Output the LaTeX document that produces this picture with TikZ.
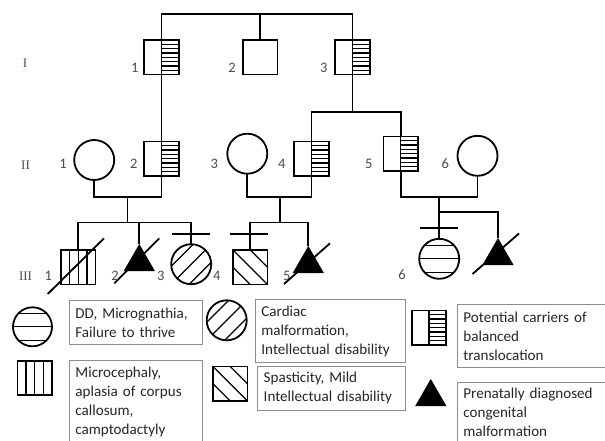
\documentclass[tikz,border=0pt]{standalone}
\usepackage{fontspec}
\setmainfont{Carlito}
\newfontfamily\genfont{Liberation Serif}
\usetikzlibrary{calc,shapes.geometric}
\definecolor{numgray}{rgb}{0.3,0.3,0.3}
\definecolor{boxgray}{rgb}{0.55,0.55,0.55}
\tikzset{
  conn/.style={line width=1.8pt},
  ind/.style={draw,line width=1.8pt,inner sep=0pt,outer sep=0pt},
  male/.style={ind,rectangle,minimum size=34.5pt},
  female/.style={ind,circle,minimum size=40pt},
  affected/.style={regular polygon,regular polygon sides=3,draw,fill=black,line width=1pt,inner sep=0pt,minimum size=34pt},
  hatch/.style={line width=1.2pt},
  carrier/.style={male,path picture={
    \draw[hatch] (path picture bounding box.north) -- (path picture bounding box.south);
    \foreach \k in {1,...,7}
      \draw[hatch] ($(path picture bounding box.north)!\k/8!(path picture bounding box.south)$) -- ($(path picture bounding box.north east)!\k/8!(path picture bounding box.south east)$);}},
  vstripes/.style={male,path picture={
    \foreach \k in {1,2,3}
      \draw[hatch] ($(path picture bounding box.north west)!\k/4!(path picture bounding box.north east)$) -- ($(path picture bounding box.south west)!\k/4!(path picture bounding box.south east)$);}},
  bstripes/.style={male,path picture={
    \draw[hatch] (path picture bounding box.north west) -- (path picture bounding box.south east);
    \draw[hatch] (path picture bounding box.north) -- (path picture bounding box.east);
    \draw[hatch] (path picture bounding box.west) -- (path picture bounding box.south);}},
  fstripes/.style={female,path picture={
    \foreach \s in {-9,0,9}
      \draw[hatch] ([shift={(\s pt,-\s pt)}]path picture bounding box.south west) -- ([shift={(\s pt,-\s pt)}]path picture bounding box.north east);}},
  hstripes/.style={female,path picture={
    \foreach \s in {-13.5,0,13.5}
      \draw[hatch] ([yshift=\s pt]path picture bounding box.west) -- ([yshift=\s pt]path picture bounding box.east);}},
  num/.style={text=numgray,inner sep=0pt,font=\fontsize{14.5}{16}\selectfont},
  gen/.style={text=numgray,inner sep=0pt,font=\genfont\fontsize{13}{15}\selectfont},
  legbox/.style={draw=boxgray,line width=0.8pt,anchor=north west,align=left,inner xsep=6pt,inner ysep=0pt,text=black!85,font=\fontsize{15.1}{19}\selectfont}
}

\begin{document}
\begin{tikzpicture}[x=1pt,y=-1pt]
\useasboundingbox (0,0) rectangle (605,440);
% generation I
\node[carrier] (I1) at (161.5,57.3) {};
\node[male] (I2) at (260.3,57.3) {};
\node[carrier] (I3) at (352.5,57.3) {};
% generation II
\node[female] (II1) at (94.2,160) {};
\node[carrier] (II2) at (161.5,158.7) {};
\node[female] (II3) at (247.3,153.7) {};
\node[carrier] (II4) at (311.5,158.7) {};
\node[carrier] (II5) at (400.8,153.7) {};
\node[female] (II6) at (477.5,155.8) {};
% generation III
\node[vstripes] (III1) at (78.3,267.2) {};
\node[affected] (III2) at (139.3,262) {};
\node[fstripes] (III3) at (191.2,264.2) {};
\node[bstripes] (III4) at (250.3,267.2) {};
\node[affected] (III5) at (308.3,264) {};
\node[hstripes] (III6) at (439.2,258.8) {};
\node[affected] (III7) at (498,256) {};

% lines of descent
\coordinate (topI) at (260.3,14);
\coordinate (sibII) at (352.5,112.3);
\coordinate (mar1) at (127.5,197.3);
\coordinate (sib1) at (127.5,222.5);
\coordinate (mar2) at (280,197.3);
\coordinate (sib2) at (280,222.5);
\coordinate (mar3) at (439.2,197.3);
\coordinate (twin) at (439.2,212);
\draw[conn] (I1.north) |- (topI) -| (I3.north);
\draw[conn] (I2.north) -- (topI);
\draw[conn] (I1.south) -- (II2.north);
\draw[conn] (I3.south) -- (sibII);
\draw[conn] (II4.north) |- (sibII) -| (II5.north);
\draw[conn] (II1.south) |- (mar1) -| (II2.south);
\draw[conn] (II3.south) |- (mar2) -| (II4.south);
\draw[conn] (II5.south) |- (mar3) -| (II6.south);
\draw[conn] (mar1) -- (sib1);
\draw[conn] (mar2) -- (sib2);
\draw[conn] (III1.north) |- (sib1) -| (III3.north);
\draw[conn] (sib1) -| (III2.north);
\draw[conn] (III4.north) |- (sib2) -| (III5.north);
\draw[conn] (mar3) -- (III6.north);
\draw[conn] (twin) -| (III7.north);

% bars
\coordinate (bar3) at (191.2,234.3);
\coordinate (bar4) at (248.8,234.3);
\coordinate (bar6) at (439.2,228.3);
\foreach \b in {bar3,bar4,bar6}
  \draw[conn] ([xshift=-19pt]\b) -- ([xshift=19pt]\b);

% deceased
\draw[conn] ([shift={(-30.6,26.8)}]III1.center) -- ([shift={(25.7,-28.9)}]III1.center);
\draw[conn] ([shift={(-25,21.3)}]III2.center) -- ([shift={(20,-23.7)}]III2.center);
\draw[conn] ([shift={(-24.3,20)}]III5.center) -- ([shift={(21.7,-20.7)}]III5.center);
\draw[conn] ([shift={(-25.5,18)}]III7.center) -- ([shift={(21,-22.5)}]III7.center);

% generation labels
\node[gen] (gI) at (25,63.5) {I};
\node[gen] (gII) at (25.5,165) {II};
\node[gen] (gIII) at (25.5,276) {III};
% individual numbers
\node[num] (nI1) at (134.7,68) {1};
\node[num] (nI2) at (232,68) {2};
\node[num] (nI3) at (323.7,67.7) {3};
\node[num] (nII1) at (63,164) {1};
\node[num] (nII2) at (133.7,164) {2};
\node[num] (nII3) at (214.3,164) {3};
\node[num] (nII4) at (281.7,164) {4};
\node[num] (nII5) at (368.7,164) {5};
\node[num] (nII6) at (445.3,164) {6};
\node[num] (nIII1) at (48.3,276) {1};
\node[num] (nIII2) at (115,276) {2};
\node[num] (nIII3) at (160.7,276) {3};
\node[num] (nIII4) at (216.7,276) {4};
\node[num] (nIII5) at (286.7,276) {5};
\node[num] (nIII6) at (402,274.7) {6};

% key
\node[hstripes,minimum size=39pt] (k1) at (32.5,326.8) {};
\node[vstripes] (k2) at (34.7,378) {};
\node[fstripes] (k3) at (226.7,320.3) {};
\node[bstripes] (k4) at (230.3,383.7) {};
\node[carrier] (k5) at (429,327.7) {};
\node[affected] (k6) at (430.8,397) {};
\node[legbox,text width=120.7pt,minimum height=44pt] (t1) at (69,300) {DD, Micrognathia,\\Failure to thrive};
\node[legbox,text width=120.7pt,minimum height=84pt] (t2) at (69,360) {Microcephaly,\\aplasia of corpus\\callosum,\\camptodactyly};
\node[legbox,text width=137.7pt,minimum height=63pt] (t3) at (255,299.3) {Cardiac\\malformation,\\Intellectual disability};
\node[legbox,text width=135.4pt,minimum height=44.3pt] (t4) at (257.3,365.7) {Spasticity, Mild\\Intellectual disability};
\node[legbox,text width=145pt,minimum height=63.3pt] (t5) at (457,304) {Potential carriers of\\balanced\\translocation};
\node[legbox,text width=145pt,minimum height=61pt] (t6) at (457,381.7) {Prenatally diagnosed\\congenital\\malformation};
\end{tikzpicture}
\end{document}
